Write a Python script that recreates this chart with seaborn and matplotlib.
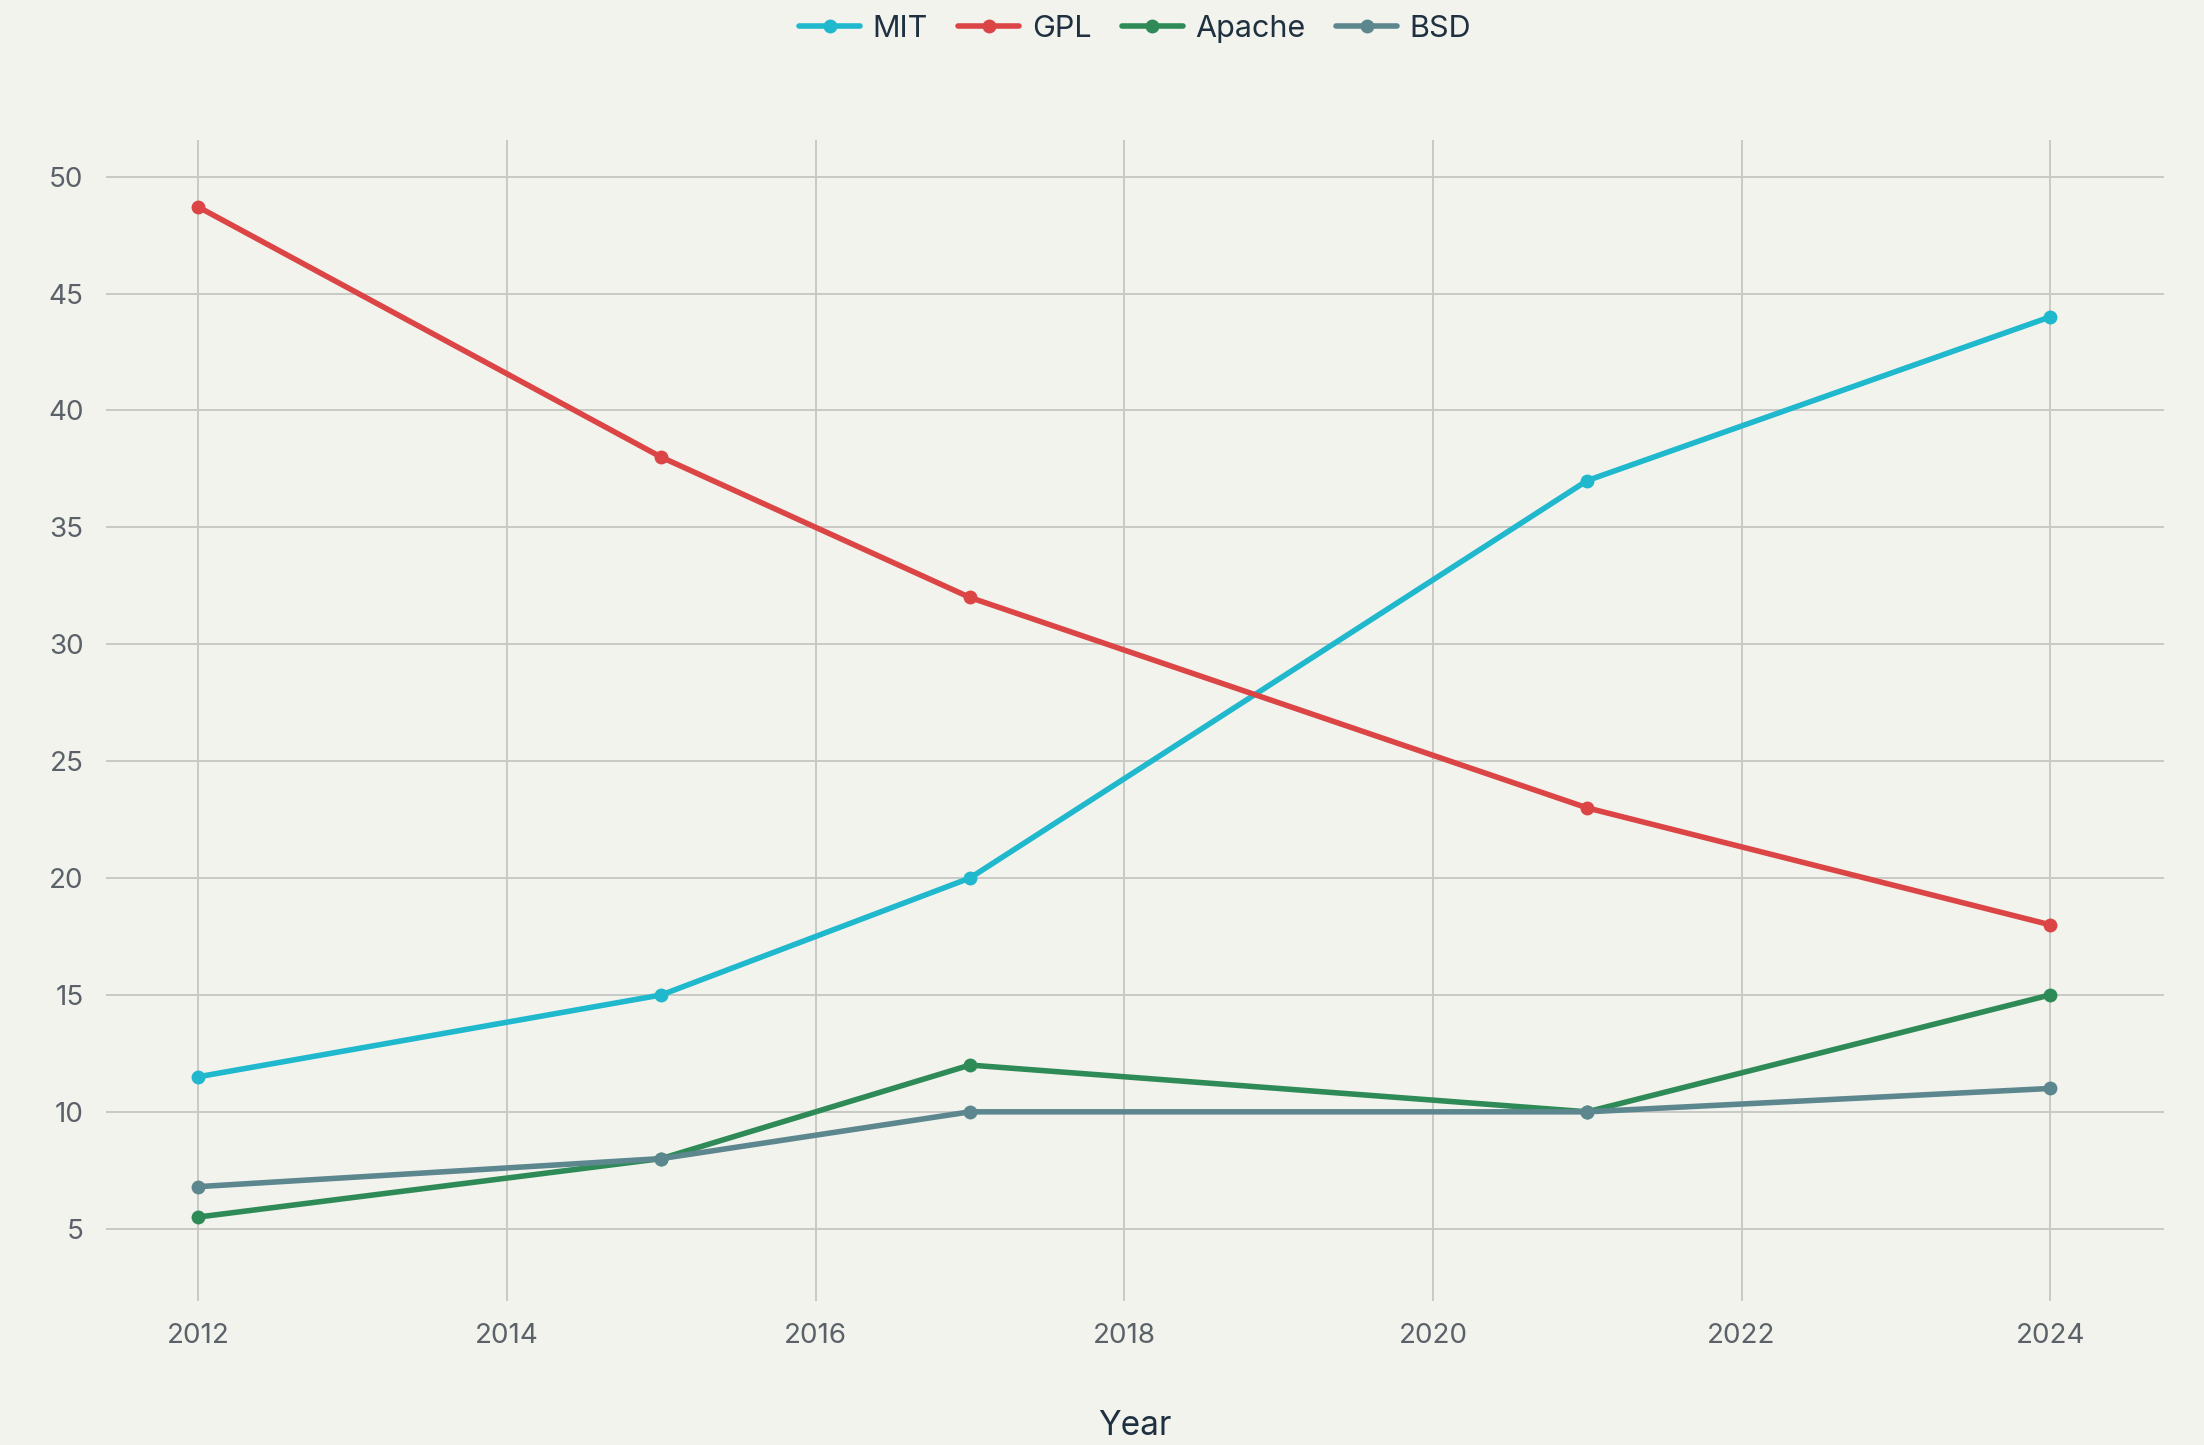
import numpy as np
import pandas as pd
import matplotlib
matplotlib.use("Agg")
import matplotlib.pyplot as plt
import seaborn as sns

years = [2012, 2015, 2017, 2021, 2024]
mit = [11.5, 15, 20, 37, 44]
gpl = [48.7, 38, 32, 23, 18]
apache = [5.5, 8, 12, 10, 15]
bsd = [6.8, 8, 10, 10, 11]
licenses = ["MIT", "GPL", "Apache", "BSD"]
colors = ["#1fb8cd", "#db4545", "#2e8b57", "#5d878f"]

df = pd.DataFrame({"Year": years, "MIT": mit, "GPL": gpl, "Apache": apache, "BSD": bsd})
long = df.melt(id_vars="Year", var_name="License", value_name="Share")

bg = "#f3f3ee"
sns.set_theme(style="whitegrid")
plt.rcParams["font.family"] = ["Inter", "DejaVu Sans"]

fig = plt.figure(figsize=(11.02, 7.225), dpi=200, facecolor=bg)
ax = fig.add_axes([0.048, 0.10, 0.934, 0.803], facecolor=bg)

sns.lineplot(data=long, x="Year", y="Share", hue="License", hue_order=licenses,
             palette=colors, marker="o", markersize=5, markeredgewidth=0,
             linewidth=2, ax=ax)

ax.set_xlim(2011.4, 2024.74)
ax.set_ylim(1.93, 51.56)
ax.set_xticks(range(2012, 2025, 2))
ax.set_yticks(range(5, 51, 5))
ax.grid(True, color="#c8c8c4", linewidth=0.7)
for s in ax.spines.values():
    s.set_visible(False)
ax.tick_params(axis="both", length=0, labelsize=10, labelcolor="#5a6168", pad=8)
ax.set_xlabel("Year", fontsize=12, color="#1f3040", labelpad=22)
ax.set_ylabel("")

h, l = ax.get_legend_handles_labels()
ax.legend(h, l, loc="lower center", bbox_to_anchor=(0.5, 1.06), ncol=4,
          frameon=False, fontsize=11, handlelength=2, columnspacing=1.0,
          handletextpad=0.4, labelcolor="#1f3040")

fig.savefig("out.png", dpi=200, facecolor=bg)
